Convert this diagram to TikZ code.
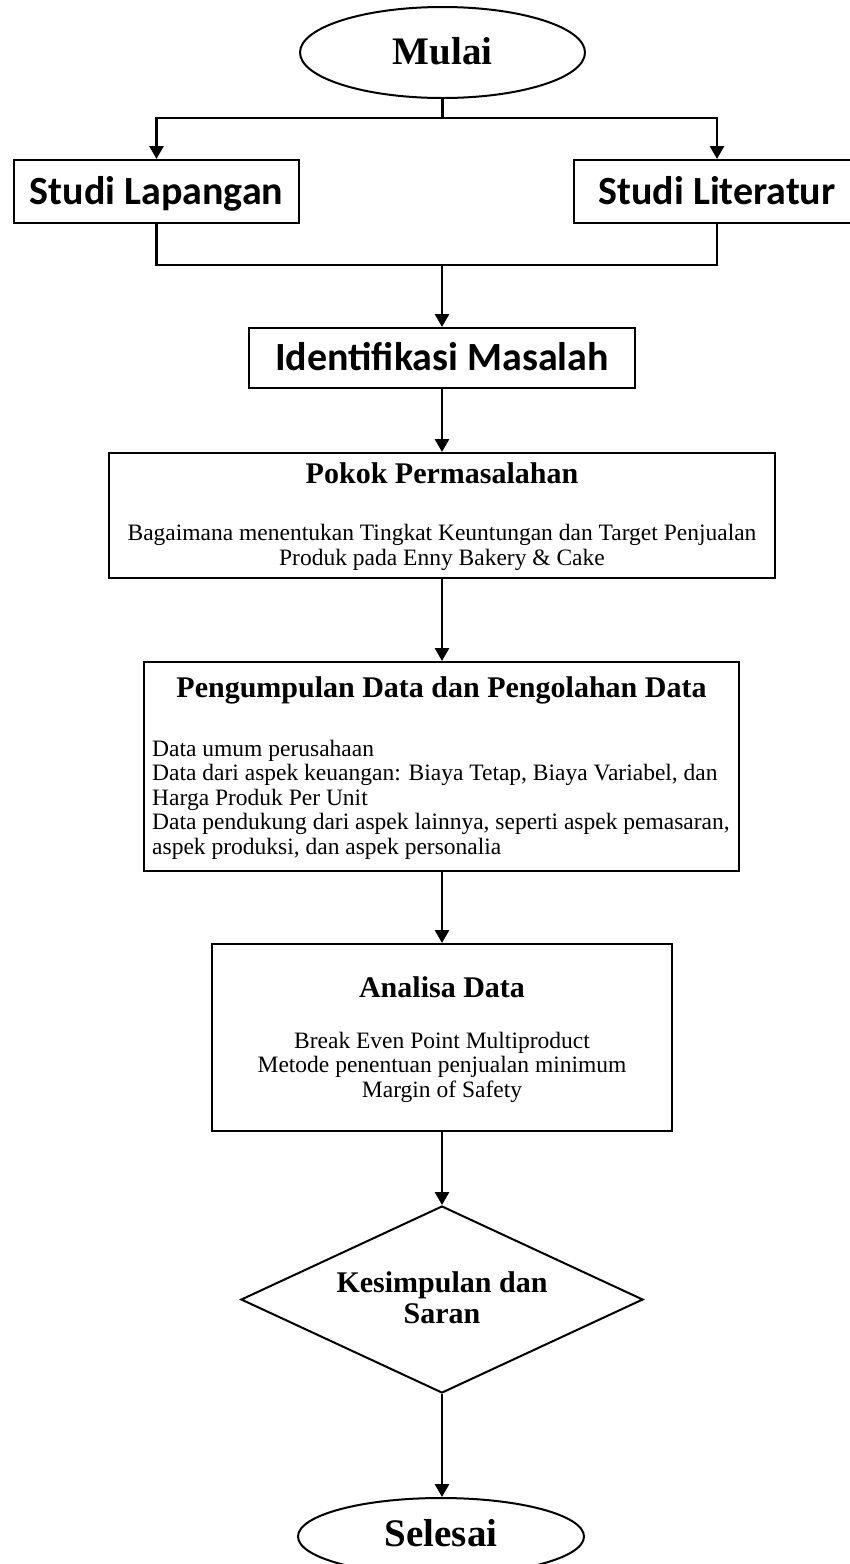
\documentclass[tikz,border=0pt]{standalone}
\usepackage{fontspec}
\setmainfont{Liberation Serif}
\newfontfamily\carl{Carlito}
\usetikzlibrary{shapes.geometric,arrows.meta}
\begin{document}
\begin{tikzpicture}[x=1pt,y=-1pt,
  box/.style={draw,line width=2pt,rectangle,inner sep=0pt},
  term/.style={draw,line width=2pt,ellipse,inner sep=0pt},
  conn/.style={line width=2.8pt},
  arr/.style={line width=2.8pt,-{Triangle[width=14pt,length=13pt]}},
  bigtitle/.style={font=\fontsize{39}{45}\selectfont\bfseries,inner sep=0pt,anchor=base},
  calititle/.style={font=\carl\fontsize{40}{46}\selectfont\bfseries,inner sep=0pt,anchor=base},
  title/.style={font=\fontsize{30}{31}\selectfont\bfseries,inner sep=0pt},
  body/.style={font=\fontsize{23.5}{24.5}\selectfont,inner sep=0pt}]
\useasboundingbox (0,0) rectangle (849,1564);
\fill[white] (0,0) rectangle (849,1564);

% shapes
\node[term,minimum width=285pt,minimum height=91pt] (mulai) at (442.5,52.5) {};
\node[bigtitle] (mulaiT) at (442.5,64) {Mulai};

\node[box,minimum width=285pt,minimum height=63pt] (lap) at (156.5,191.5) {};
\node[calititle] (lapT) at (156.5,204) {Studi Lapangan};
\node[box,minimum width=286pt,minimum height=63pt] (lit) at (717,191.5) {};
\node[calititle] (litT) at (717,204) {Studi Literatur};

\node[box,minimum width=386pt,minimum height=60pt] (idm) at (442,358) {};
\node[calititle] (idmT) at (442,370.5) {Identifikasi Masalah};

\node[box,minimum width=666pt,minimum height=125pt] (pok) at (442,515.5) {};
\node[title,anchor=base] (pokT) at (442,483) {Pokok Permasalahan};
\node[body,anchor=base,align=center] (pokB) at (442,565) {Bagaimana menentukan Tingkat Keuntungan dan Target Penjualan\\Produk pada Enny Bakery \& Cake};

\node[box,minimum width=595pt,minimum height=209pt] (peng) at (441.5,766.5) {};
\node[title,anchor=base] (pengT) at (441.5,697) {Pengumpulan Data dan Pengolahan Data};
\node[body,anchor=base west,align=left] (pengB) at (152,854) {Data umum perusahaan\\Data dari aspek keuangan: Biaya Tetap, Biaya Variabel, dan\\Harga Produk Per Unit\\Data pendukung dari aspek lainnya, seperti aspek pemasaran,\\aspek produksi, dan aspek personalia};

\node[box,minimum width=460pt,minimum height=187pt] (ana) at (442,1037.5) {};
\node[title,anchor=base] (anaT) at (442,997) {Analisa Data};
\node[body,anchor=base,align=center] (anaB) at (442,1097) {Break Even Point Multiproduct\\Metode penentuan penjualan minimum\\Margin of Safety};

\node[draw,line width=2pt,diamond,inner sep=0pt,minimum width=402pt,minimum height=187pt] (kes) at (442,1299.5) {};
\node[title,anchor=base,align=center] (kesT) at (442,1323) {Kesimpulan dan\\Saran};

\node[term,minimum width=286pt,minimum height=77pt] (sel) at (441,1536.5) {};
\node[bigtitle] (selT) at (441,1546) {Selesai};

% connectors
\coordinate (j1) at (442.5,118);
\coordinate (j2) at (442,265);
\draw[conn] (mulai.south) -- (j1);
\draw[arr] (j1) -| (lap.north);
\draw[arr] (j1) -| (lit.north);
\draw[conn] (lap.south) |- (j2);
\draw[conn] (lit.south) |- (j2);
\draw[arr] (j2) -- (idm.north);
\draw[arr] (idm.south) -- (pok.north);
\draw[arr] (pok.south) -- (peng.north -| pok.south);
\draw[arr] (peng.south -| ana.north) -- (ana.north);
\draw[arr] (ana.south) -- (kes.north);
\draw[arr] (kes.south) -- (sel.north -| kes.south);
\end{tikzpicture}
\end{document}
